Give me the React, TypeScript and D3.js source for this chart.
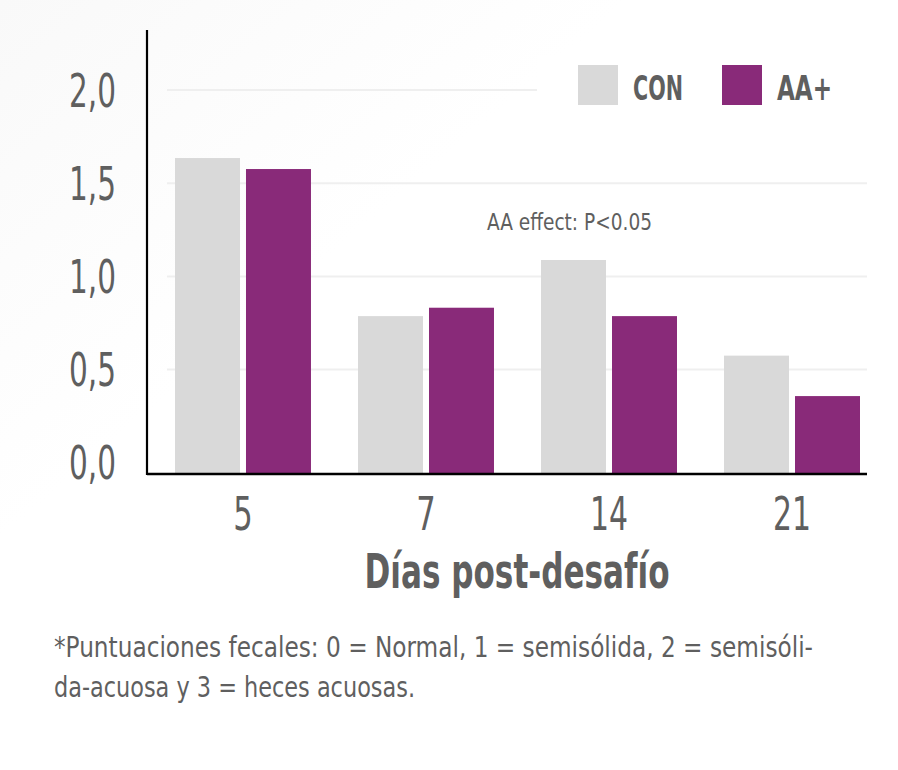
import React from "react";
import * as d3 from "d3";

const categories = ["5", "7", "14", "21"];
const seriesNames = ["CON", "AA+"];
const conValues = [1.635, 0.787, 1.088, 0.575];
const aaValues = [1.576, 0.832, 0.787, 0.358];
const yTicks = [0, 0.5, 1.0, 1.5, 2.0];
const yTickLabels = ["0,0", "0,5", "1,0", "1,5", "2,0"];
const xTitle = "Días post-desafío";
const annotation = "AA effect: P<0.05";
const footnoteLines = [
  "*Puntuaciones fecales: 0 = Normal, 1 = semisólida, 2 = semisóli-",
  "da-acuosa y 3 = heces acuosas.",
];

const colors = ["#d9d9d9", "#892a79"];
const textColor = "#5f5f5f";
const FONT = "'Liberation Sans Narrow','Arial Narrow','DejaVu Sans Condensed',sans-serif";

export default function App() {
  const W = 898, H = 770;
  const axisLeft = 147, axisRight = 867, axisTop = 30;
  const y = d3.scaleLinear().domain([-0.06, 2.0]).range([474, 90]);
  const x = d3.scaleBand<string>().domain(categories).range([156.7, 878.3]).paddingInner(0.257).paddingOuter(0.1);
  const xs = d3.scaleBand<string>().domain(seriesNames).range([0, x.bandwidth()]).paddingInner(0.0845).paddingOuter(0);
  const series = [conValues, aaValues];
  const base = y.range()[0];
  const legendWidths = [50, 55];
  const footWidths = [759, 361];

  return (
    <svg width={W} height={H} style={{ position: "absolute", left: 0, top: 0, background: "#ffffff" }} fontFamily={FONT}>
      <defs>
        <linearGradient id="bg" x1="0" y1="0" x2="1" y2="1">
          <stop offset="0" stopColor="#f9f9f9" />
          <stop offset="0.35" stopColor="#ffffff" />
          <stop offset="1" stopColor="#ffffff" />
        </linearGradient>
      </defs>
      <rect x={0} y={0} width={W} height={H} fill="url(#bg)" />
      {/* gridlines */}
      {yTicks.filter((t) => t > 0).map((t) => (
        <line key={"g" + t} x1={167} x2={axisRight} y1={y(t)} y2={y(t)} stroke="#efefef" strokeWidth={2} />
      ))}
      {/* legend background */}
      <rect x={537} y={55} width={330} height={60} fill="#ffffff" />
      {/* bars */}
      {categories.map((c, i) => (
        <g key={c} transform={`translate(${x(c)},0)`}>
          {seriesNames.map((s, j) => (
            <rect key={s} x={xs(s)} y={y(series[j][i])} width={xs.bandwidth()} height={base - y(series[j][i])} fill={colors[j]} />
          ))}
        </g>
      ))}
      {/* axes */}
      <line x1={axisLeft} x2={axisLeft} y1={axisTop} y2={base + 1} stroke="#000" strokeWidth={2.2} />
      <line x1={axisLeft} x2={axisRight} y1={base} y2={base} stroke="#000" strokeWidth={2.4} />
      {/* y tick labels */}
      {yTicks.map((t, i) => (
        <text key={"yl" + t} x={116} y={y(t)} dy="0.36em" textAnchor="end" fontSize={46} fill={textColor}
          textLength={47} lengthAdjust="spacingAndGlyphs">
          {yTickLabels[i]}
        </text>
      ))}
      {/* x tick labels */}
      {categories.map((c) => (
        <text key={"xl" + c} x={(x(c) as number) + x.bandwidth() / 2} y={530} textAnchor="middle" fontSize={46} fill={textColor}
          textLength={c.length * 18.5 + 1} lengthAdjust="spacingAndGlyphs">
          {c}
        </text>
      ))}
      <text x={517} y={588} textAnchor="middle" fontSize={48} fontWeight="bold" fill={textColor}
        textLength={305} lengthAdjust="spacingAndGlyphs">
        {xTitle}
      </text>
      {/* legend */}
      {seriesNames.map((s, j) => (
        <g key={"lg" + s} transform={`translate(${[578, 722][j]},65)`}>
          <rect x={0} y={0} width={40} height={40} fill={colors[j]} />
          <text x={55} y={35} fontSize={34} fontWeight="bold" fill={textColor}
            textLength={legendWidths[j]} lengthAdjust="spacingAndGlyphs">
            {s}
          </text>
        </g>
      ))}
      <text x={487} y={230} fontSize={23} fill={textColor} textLength={165} lengthAdjust="spacingAndGlyphs">
        {annotation}
      </text>
      {footnoteLines.map((l, i) => (
        <text key={"fn" + i} x={54} y={657 + i * 40} fontSize={29} fill={textColor}
          textLength={footWidths[i]} lengthAdjust="spacingAndGlyphs">
          {l}
        </text>
      ))}
    </svg>
  );
}
